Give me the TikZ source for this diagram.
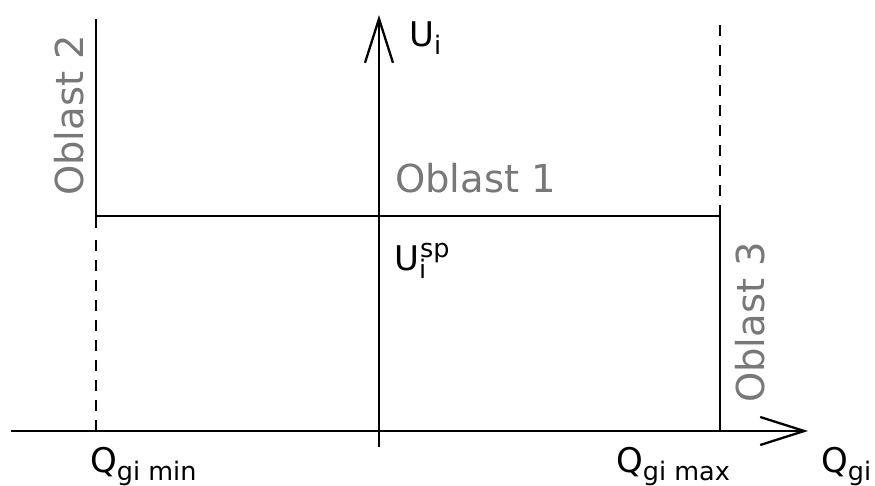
\documentclass[tikz,border=0pt]{standalone}
\usepackage{fontspec}
\setmainfont{DejaVu Sans}
\usetikzlibrary{arrows.meta}
\newcommand{\lblfont}{\fontsize{34}{36}\selectfont}
\newcommand{\oblfont}{\fontsize{38.5}{40}\selectfont}
\newcommand{\sbs}[1]{\raisebox{-8pt}{\fontsize{25.5}{26}\selectfont #1}}
\newcommand{\sps}[1]{\raisebox{13pt}{\fontsize{25.5}{26}\selectfont #1}}
\begin{document}
\begin{tikzpicture}[x=1pt,y=-1pt,
  axis/.style={line width=2.3pt, -{Straight Barb[length=44pt,width=28pt,line width=2.3pt]}},
  solidline/.style={line width=2.3pt},
  dashline/.style={line width=2.3pt, dash pattern=on 11pt off 9pt},
  obl/.style={text=black!53, inner sep=0pt, font=\oblfont},
  lbl/.style={text=black, inner sep=0pt, font=\lblfont}]
\useasboundingbox (0,0) rectangle (875,485);
% coordinates
\coordinate (xs) at (11,431);
\coordinate (xe) at (808,431);
\coordinate (ys) at (379,447);
\coordinate (ye) at (379,15);
\coordinate (lt) at (96,19);
\coordinate (lm) at (96,216);
\coordinate (lb) at (96,228);
\coordinate (ld) at (96,240);
\coordinate (la) at (96,431);
\coordinate (rt) at (720,19);
\coordinate (rm) at (720,216);
\coordinate (ra) at (720,431);
% axes
\draw[axis] (xs) -- (xe);
\draw[axis] (ys) -- (ye);
% boundaries
\draw[solidline] (lt) -- (lb);
\draw[dashline] (ld) -- (la);
\draw[solidline] (lm) -- (rm) -- (ra);
\draw[dashline] (rm) -- (rt);
% region labels
\node[obl, rotate=90, anchor=base west] (o2) at (83,196) {Oblast 2};
\node[obl, anchor=base west] (o1) at (395,192) {Oblast 1};
\node[obl, rotate=90, anchor=base west] (o3) at (764,403) {Oblast 3};
% labels
\node[lbl, anchor=base west] (ui) at (409,46) {U\sbs{i}};
\node[lbl, anchor=base west] (usp) at (394,270) {U\rlap{\sbs{i}}\hspace{1pt}\sps{sp}};
\node[lbl, anchor=base west] (qmin) at (90,472) {Q\sbs{gi min}};
\node[lbl, anchor=base west] (qmax) at (616,472) {Q\sbs{gi max}};
\node[lbl, anchor=base west] (qgi) at (821,472) {Q\sbs{gi}};
\end{tikzpicture}
\end{document}
